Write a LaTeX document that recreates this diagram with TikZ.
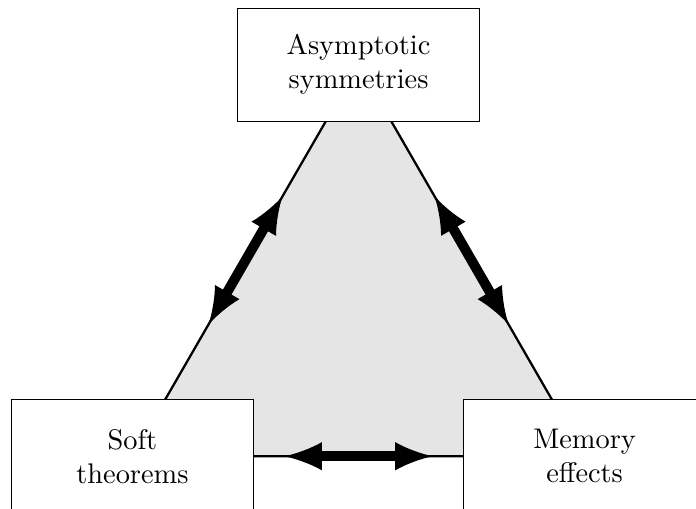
\documentclass[tikz,border=0pt]{standalone}
\usetikzlibrary{arrows,backgrounds}

\begin{document}
\begin{tikzpicture}[box/.style={draw,fill=white,align=center,minimum width=3cm,minimum height=1.4cm},
  bigarrow/.style={line width=3.5pt,latex-latex,shorten >=1.88cm,shorten <=1.88cm}]
\useasboundingbox (-1.64,-0.646) rectangle (6.979,5.65);
% boxes
\node[box] (soft) at (0,0) {Soft\\theorems};
\node[box] (memory) at (5.6,0) {Memory\\effects};
\node[box] (asym) at (60:5.6) {Asymptotic\\symmetries};
% triangle
\begin{scope}[on background layer]
\draw[thick,fill=gray!20] (soft.center) -- (memory.center) -- (asym.center) -- cycle;
\end{scope}
% arrows
\draw[bigarrow] (asym.center) to (soft.center);
\draw[bigarrow] (asym.center) to (memory.center);
\draw[bigarrow] (soft.center) to (memory.center);
\end{tikzpicture}
\end{document}
